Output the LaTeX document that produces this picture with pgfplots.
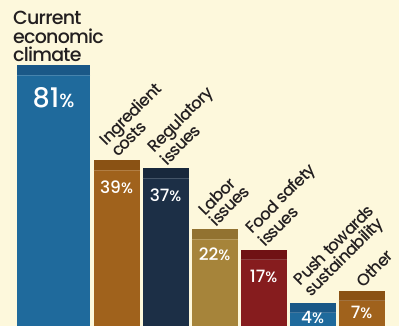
\documentclass[border=0pt]{standalone}
\usepackage{pgfplots}
\pgfplotsset{compat=1.18}
\usepackage{fontspec}
\setmainfont{Poppins}
\newfontfamily\pmed{Poppins Medium}
\newfontfamily\pmedt{Poppins Medium}[LetterSpace=-4]
\definecolor{bg}{HTML}{FDF8DC}
\definecolor{blueB}{HTML}{1F6A9C}\definecolor{blueT}{HTML}{1A5887}
\definecolor{orB}{HTML}{A0621C}\definecolor{orT}{HTML}{8A5214}
\definecolor{navB}{HTML}{1C2F46}\definecolor{navT}{HTML}{18283C}
\definecolor{goB}{HTML}{A6843A}\definecolor{goT}{HTML}{927230}
\definecolor{reB}{HTML}{861C1E}\definecolor{reT}{HTML}{701214}
\definecolor{txt}{HTML}{231F20}
\newcommand{\vfont}{\pmed\fontsize{17}{17}\selectfont}
\newcommand{\pct}{{\fontsize{15}{15}\selectfont\%}}
\newcommand{\mybar}[7]{%
  \addplot[ybar, bar width=#5, bar shift=0pt, fill=#3, draw=none,
    nodes near coords={\mbox{}},
    every node near coord/.style={anchor=north, fill=#4, minimum width=#5,
      minimum height=10pt, inner sep=0pt, outer sep=0pt,
      append after command={(\tikzlastnode.south west) edge[draw=white, draw opacity=0.18, line width=0.8pt] (\tikzlastnode.south east)}}]
    coordinates {(#1,#2)};
  \addplot[only marks, mark=none, nodes near coords={#6},
    every node near coord/.style={anchor=north, text=white, inner sep=0pt,
      yshift=-#7}]
    coordinates {(#1,#2)};
}
\begin{document}
\begin{tikzpicture}
\fill[bg] (0,0) rectangle (399pt,326pt);
\begin{axis}[
  at={(0,0)}, anchor=south west,
  width=399pt, height=326pt, scale only axis, hide axis,
  xmin=-0.378, xmax=7.765,
  y coord trafo/.code={\pgfmathparse{(#1>45)*(45+(#1-45)*0.4833)+(#1<=45)*(#1)+1.72}},
  ymin=-1.72, ymax=114.1,
]
\mybar{0.714}{81}{blueB}{blueT}{73pt}{\pmed\fontsize{27}{27}\selectfont 81{\fontsize{19}{19}\selectfont\%}}{22pt}
\mybar{2}{39}{orB}{orT}{46pt}{\vfont 39\pct}{20pt}
\mybar{3}{37}{navB}{navT}{46pt}{\vfont 37\pct}{20pt}
\mybar{4}{22}{goB}{goT}{46pt}{\vfont 22\pct}{18pt}
\mybar{5}{17}{reB}{reT}{46pt}{\vfont 17\pct}{20pt}
\mybar{6}{4}{blueB}{blueT}{46pt}{\vfont 4\pct}{8pt}
\mybar{7}{7}{orB}{orT}{46pt}{\vfont 7\pct}{15pt}
\node[xshift=-40.5pt, yshift=3pt, anchor=south west, align=left, inner sep=0pt,
  font=\pmedt\fontsize{19}{18.5}\selectfont, text=txt] at (axis cs:0.714,81) {Current\\economic\\climate};
\tikzset{rlab/.style={xshift=2pt, yshift=2pt, rotate=45, anchor=south west, align=left,
  inner sep=0pt, font=\pmedt\fontsize{16.5}{15.5}\selectfont, text=txt}}
\node[rlab] at (axis cs:2,39) {Ingredient\\costs};
\node[rlab] at (axis cs:3,37) {Regulatory\\issues};
\node[rlab] at (axis cs:4,22) {Labor\\issues};
\node[rlab] at (axis cs:5,17) {Food safety\\issues};
\node[rlab] at (axis cs:6,4) {Push towards\\sustainability};
\node[rlab] at (axis cs:7,7) {Other};
\end{axis}
\pgfresetboundingbox
\path[use as bounding box] (0,0) rectangle (399pt,326pt);
\end{tikzpicture}
\end{document}
